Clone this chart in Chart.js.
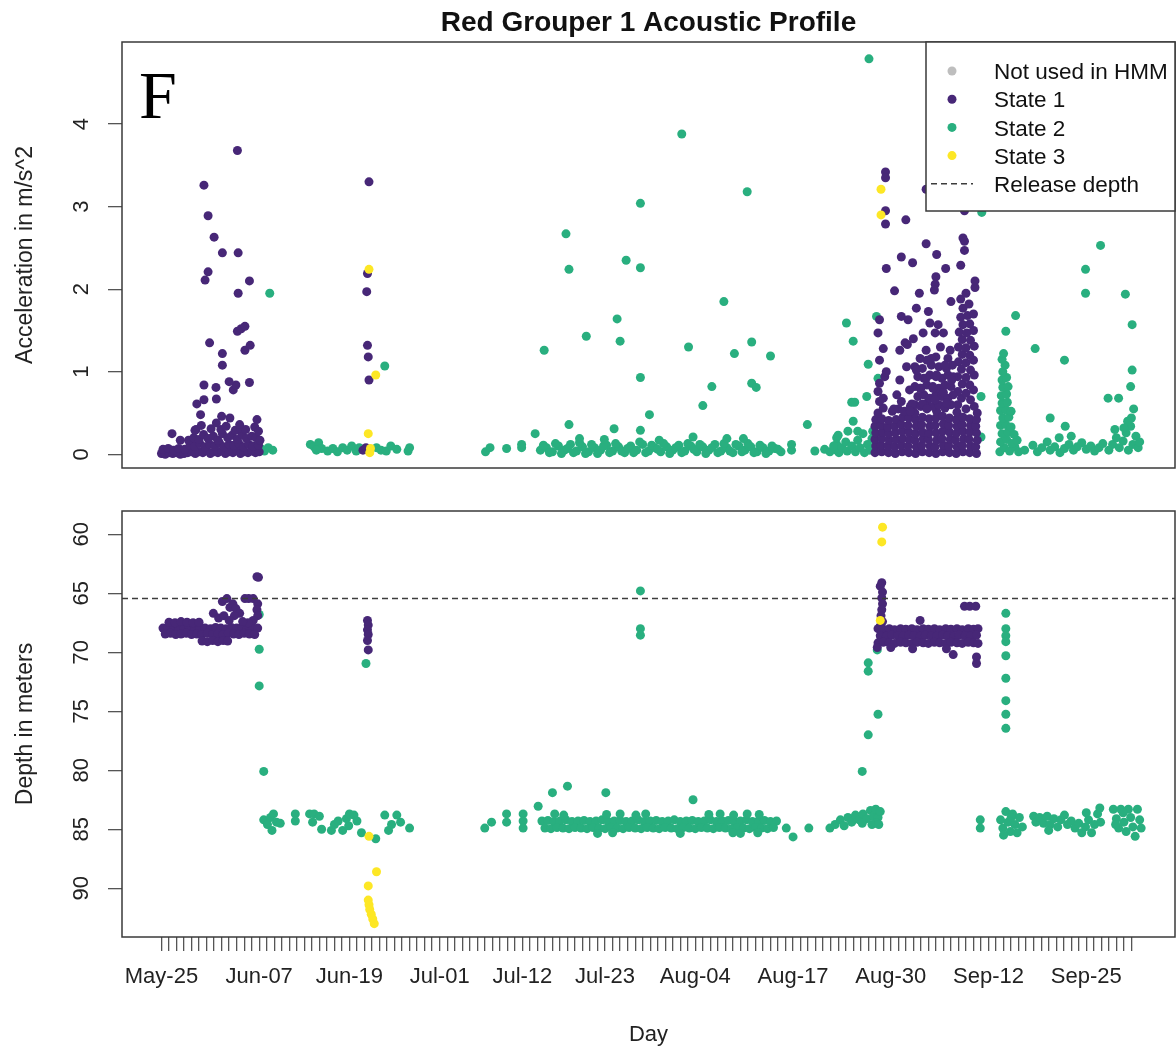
<!DOCTYPE html>
<html>
<head>
<meta charset="utf-8">
<title>Red Grouper 1 Acoustic Profile</title>
<script src="https://cdn.jsdelivr.net/npm/chart.js@4/dist/chart.umd.min.js"></script>
<style>
  html, body { margin: 0; padding: 0; background: #fff; overflow: hidden; }
  #accWrap { position: absolute; left: 0; top: 0; width: 1176px; height: 510px; }
  #depthWrap { position: absolute; left: 0; top: 470px; width: 1176px; height: 582px; }
</style>
</head>
<body>
<div id="accWrap"><canvas id="accChart"></canvas></div>
<div id="depthWrap"><canvas id="depthChart"></canvas></div>
<script>
// ---- Day axis (day 0 = May-25) ----
const tickLabels    = ['May-25','Jun-07','Jun-19','Jul-01','Jul-12','Jul-23','Aug-04','Aug-17','Aug-30','Sep-12','Sep-25'];
const tickLabelDays = [0, 13, 25, 37, 48, 59, 71, 84, 97, 110, 123];
const firstTickDay = 0;
const lastTickDay = 129;
const dayMin = -5.25;
const dayMax = 134.8;

// ---- Acceleration axis ----
const accTicks = [0, 1, 2, 3, 4];
const accMin = -0.166;
const accMax = 4.994;

// ---- Depth axis ----
const depthTicks = [60, 65, 70, 75, 80, 85, 90];
const depthMin = 58.03;
const depthMax = 94.13;
const releaseDepth = 65.45;

// ---- Acceleration observations [day, m/s^2] ----
const accNotUsed = [];
const accState1 = [
  [0.0,0.01],[0.5,0.00],[1.0,0.02],[1.5,0.01],[2.0,0.02],[2.5,0.00],[3.0,0.01],[3.5,0.02],[4.0,0.03],[4.5,0.01],[5.0,0.03],[5.5,0.02],[6.0,0.05],[6.5,0.01],[7.0,0.03],[7.5,0.02],[8.0,0.04],[8.5,0.01],[9.0,0.03],[9.5,0.02],[10.0,0.05],[10.5,0.01],[11.0,0.03],[11.5,0.02],[12.0,0.04],[12.5,0.02],[13.0,0.03],
  [0.2,0.06],[0.9,0.07],[1.6,0.05],[2.3,0.07],[3.1,0.06],[3.8,0.11],[4.4,0.10],[5.1,0.13],[5.8,0.09],[6.4,0.12],[7.1,0.10],[7.7,0.14],[8.3,0.09],[9.0,0.12],[9.6,0.11],[10.3,0.13],[10.9,0.09],[11.6,0.12],[12.2,0.10],[12.9,0.11],
  [3.6,0.17],[4.3,0.20],[5.0,0.18],[5.6,0.24],[6.2,0.19],[6.9,0.22],[7.5,0.17],[8.1,0.25],[8.8,0.20],[9.4,0.23],[10.1,0.18],[10.7,0.24],[11.3,0.19],[12.0,0.22],[12.6,0.20],[13.1,0.17],
  [4.6,0.30],[5.3,0.35],[6.6,0.31],[7.9,0.30],[8.6,0.34],[9.8,0.29],[10.5,0.32],[11.2,0.30],[12.4,0.33],[12.9,0.28],
  [1.4,0.25],[2.5,0.17],[4.45,0.29],[7.3,0.38],[10.4,0.36],[12.7,0.42],[9.1,0.44],[8.0,0.46],[5.2,0.48],[4.7,0.61],[5.65,0.66],[7.3,0.67],[9.55,0.78],[7.25,0.81],[5.65,0.84],[9.9,0.84],[11.7,0.87],[9.0,0.88],[8.1,1.08],[8.1,1.22],[11.1,1.26],[11.8,1.32],[6.4,1.35],[10.1,1.49],[10.6,1.52],[11.1,1.55],[10.2,1.95],[11.7,2.10],[5.8,2.11],[6.2,2.21],[8.1,2.44],[10.2,2.44],[7.0,2.63],[6.2,2.89],[5.65,3.26],[10.1,3.68],
  [26.8,0.05],[27.2,0.08],[27.6,0.90],[27.5,1.18],[27.4,1.32],[27.3,1.97],[27.4,2.19],[27.6,3.30],
  [94.9,0.02],[95.0,0.10],[94.9,0.18],[95.0,0.26],[94.9,0.34],[95.0,0.42],
  [95.8,0.03],[95.7,0.11],[95.8,0.19],[95.9,0.27],[95.7,0.35],[95.8,0.43],
  [96.7,0.02],[96.6,0.10],[96.8,0.17],[96.7,0.25],[96.6,0.33],[96.7,0.41],
  [97.6,0.01],[97.5,0.09],[97.7,0.18],[97.6,0.26],[97.5,0.34],[97.7,0.42],
  [98.5,0.03],[98.4,0.11],[98.6,0.19],[98.5,0.28],[98.4,0.36],[98.6,0.45],
  [99.4,0.02],[99.3,0.10],[99.5,0.18],[99.4,0.27],[99.3,0.35],[99.4,0.44],
  [100.3,0.01],[100.4,0.09],[100.2,0.17],[100.3,0.25],[100.4,0.34],[100.3,0.42],[100.2,0.50],
  [101.2,0.03],[101.1,0.11],[101.3,0.19],[101.2,0.27],[101.1,0.36],[101.2,0.45],
  [102.1,0.02],[102.2,0.10],[102.0,0.18],[102.1,0.26],[102.2,0.34],[102.1,0.43],
  [103.0,0.01],[102.9,0.09],[103.1,0.17],[103.0,0.26],[102.9,0.35],[103.0,0.44],[103.1,0.52],
  [103.9,0.03],[104.0,0.11],[103.8,0.19],[103.9,0.28],[104.0,0.37],[103.9,0.46],
  [104.8,0.02],[104.7,0.10],[104.9,0.18],[104.8,0.27],[104.7,0.35],[104.8,0.44],
  [105.7,0.01],[105.8,0.09],[105.6,0.17],[105.7,0.25],[105.8,0.34],[105.7,0.42],[105.8,0.51],
  [106.6,0.03],[106.5,0.11],[106.7,0.19],[106.6,0.28],[106.5,0.36],[106.6,0.45],
  [107.5,0.02],[107.6,0.10],[107.4,0.18],[107.5,0.27],[107.6,0.35],[107.5,0.43],
  [108.4,0.01],[108.3,0.09],[108.5,0.17],[108.4,0.26],[108.3,0.34],[108.4,0.42],[108.5,0.50],
  [105.9,0.60],[107.0,0.55],[108.1,0.58],[106.4,0.68],[107.6,0.66],[105.9,0.76],[107.0,0.74],[108.0,0.78],[106.5,0.85],[107.5,0.84],[105.9,0.94],[107.0,0.93],[108.1,0.96],[106.4,1.03],[107.6,1.02],[106.0,1.12],[107.0,1.11],[108.0,1.14],[106.5,1.21],[107.5,1.20],[106.0,1.30],[107.0,1.29],[108.1,1.31],[106.5,1.39],[107.6,1.38],[106.1,1.48],[107.1,1.47],[108.0,1.50],[106.6,1.57],[107.5,1.58],[106.3,1.66],[107.2,1.68],[108.0,1.70],[106.6,1.77],[107.4,1.82],[106.3,1.88],[107.0,1.95],[108.2,2.02],[108.2,2.10],
  [95.3,0.50],[96.0,0.56],[95.5,0.64],[96.0,0.68],[95.3,0.76],[95.5,0.86],[96.2,0.94],[96.4,1.00],[95.5,1.14],[96.0,1.28],[95.3,1.47],[95.5,1.63],[96.4,2.25],
  [97.2,0.52],[98.0,0.55],[98.8,0.52],[99.6,0.58],
  [100.2,0.60],[101.0,0.58],[101.8,0.62],[102.6,0.58],[103.4,0.60],[104.2,0.56],[105.0,0.60],
  [100.6,0.70],[101.4,0.72],[102.2,0.68],[103.0,0.72],[103.8,0.70],[104.6,0.68],[105.3,0.72],
  [100.2,0.82],[101.0,0.80],[101.8,0.84],[102.6,0.82],[103.4,0.80],[104.2,0.84],[105.0,0.82],
  [100.6,0.94],[101.4,0.92],[102.2,0.96],[103.0,0.94],[103.8,0.92],[104.6,0.96],[105.3,0.94],
  [100.2,1.06],[101.2,1.04],[102.4,1.08],[103.4,1.06],[104.4,1.04],[105.2,1.08],
  [101.8,1.14],[103.0,1.18],[104.6,1.16],
  [98.4,1.67],[99.3,1.63],[100.4,1.77],[102.0,1.73],[102.2,1.59],[103.3,1.57],[101.3,1.47],[102.9,1.47],[104.0,1.47],[98.9,1.35],[99.2,1.33],[98.2,1.26],[101.7,1.26],[104.9,1.26],[100.9,1.16],[102.4,1.16],[99.1,1.06],[100.4,1.02],[104.2,1.08],[103.1,0.96],[101.7,0.92],[98.2,0.90],[105.1,0.90],[99.5,0.78],[100.9,0.80],[98.4,0.64],[102.9,0.66],[99.8,0.61],[101.2,0.61],[104.4,0.62],[97.4,0.55],[101.8,0.55],[104.0,0.75],[102.6,0.80],[97.8,0.72],[99.6,0.52],[103.6,1.30],[100.0,1.40],
  [96.3,3.42],[96.3,3.35],[96.3,2.95],[96.3,2.79],[99.0,2.84],[101.7,2.55],[103.1,2.42],[98.4,2.39],[99.9,2.32],[106.6,2.62],[106.8,2.58],[106.8,2.47],[106.3,2.29],[104.3,2.25],[103.0,2.15],[102.9,2.06],[102.8,1.99],[101.7,3.21],[106.8,2.95],[97.5,1.98],[100.8,1.95],[105.0,1.85]
];
const accState2 = [
  [13.2,0.07],[13.7,0.04],[14.2,0.08],[14.8,0.05],[14.4,1.95],
  [19.8,0.12],[20.3,0.09],[20.9,0.14],[21.3,0.07],[20.6,0.05],[22.1,0.04],[22.8,0.07],[23.4,0.03],[24.1,0.08],[24.7,0.05],[25.3,0.10],[25.9,0.04],[26.3,0.08],[28.6,0.08],[29.2,0.05],[29.9,0.04],[29.7,1.07],[30.5,0.10],[31.3,0.06],[32.8,0.04],[33.0,0.08],
  [43.1,0.03],[43.7,0.08],[45.9,0.07],[47.9,0.08],[47.9,0.12],[49.7,0.25],[50.9,1.26],[53.8,2.67],[54.2,2.24],[54.2,0.36],[56.5,1.43],[60.2,0.31],[60.6,1.64],[61.0,1.37],[61.8,2.35],[63.7,3.04],[63.7,2.26],[63.7,0.93],[63.7,0.29],[64.9,0.48],[69.2,3.88],[70.1,1.30],[72.0,0.59],[73.2,0.82],[74.8,1.85],[76.2,1.22],[77.9,3.18],[78.5,1.36],[78.5,0.86],[79.1,0.81],[81.0,1.19],
  [50.4,0.05],[51.2,0.08],[52.0,0.03],[52.8,0.10],[53.6,0.05],[54.4,0.12],[55.2,0.04],[56.0,0.09],[56.8,0.03],[57.6,0.08],[58.4,0.05],[59.2,0.11],[60.0,0.04],[60.8,0.09],[61.6,0.02],[62.4,0.10],[63.2,0.05],[64.0,0.12],[64.8,0.04],[65.6,0.08],[66.4,0.03],[67.2,0.09],[68.0,0.05],[68.8,0.11],[69.6,0.04],[70.4,0.10],[71.2,0.03],[72.0,0.09],[72.8,0.05],[73.6,0.12],[74.4,0.04],[75.2,0.08],[76.0,0.02],[76.8,0.10],[77.6,0.05],[78.4,0.09],[79.2,0.03],[80.0,0.08],[80.8,0.04],[81.6,0.07],[82.4,0.03],
  [50.8,0.11],[51.6,0.02],[52.4,0.13],[53.2,0.01],[54.0,0.07],[54.8,0.02],[55.6,0.14],[56.4,0.01],[57.2,0.12],[58.0,0.01],[58.8,0.10],[59.6,0.02],[60.4,0.13],[61.2,0.04],[62.0,0.07],[62.8,0.02],[63.6,0.15],[64.4,0.02],[65.2,0.11],[66.0,0.06],[66.8,0.13],[67.6,0.01],[68.4,0.08],[69.2,0.02],[70.0,0.13],[70.8,0.06],[71.6,0.12],[72.4,0.01],[73.2,0.08],[74.0,0.02],[74.8,0.13],[75.6,0.04],[76.4,0.12],[77.2,0.03],[78.0,0.13],[78.8,0.02],[79.6,0.11],[80.4,0.01],[81.2,0.10],[82.0,0.06],
  [55.6,0.19],[70.7,0.21],[75.2,0.19],[77.4,0.19],[66.2,0.17],[58.9,0.18],
  [83.8,0.05],[83.8,0.12],[85.9,0.36],[86.9,0.04],[89.8,0.05],[89.8,0.12],[89.8,0.20],
  [88.2,0.06],[88.9,0.03],[89.4,0.10],[90.1,0.02],[90.5,0.08],[91.0,0.15],[91.2,0.04],[91.8,0.10],[92.3,0.03],[92.6,0.17],[92.9,0.08],[93.3,0.25],[93.5,0.02],[93.9,0.12],[94.2,0.05],[94.5,0.19],[94.8,0.09],[90.0,0.23],[91.3,0.28],[92.6,0.28],[91.8,0.63],[92.2,0.63],[93.8,0.70],[91.1,1.59],[92.0,1.37],[94.0,1.09],[95.1,1.67],[95.3,0.92],[94.1,4.79],[94.6,0.28],[92.0,0.40],
  [109.0,0.70],[109.0,0.21],[109.1,2.93],
  [111.5,0.03],[112.1,0.08],[112.8,0.04],[113.5,0.09],[114.0,0.03],[111.6,0.15],[112.4,0.18],[113.1,0.13],[113.8,0.17],[111.8,0.25],[112.6,0.27],[113.4,0.24],[111.6,0.35],[112.3,0.36],[113.0,0.33],[111.9,0.44],[112.7,0.45],[111.6,0.53],[112.3,0.54],[113.0,0.52],[111.8,0.62],[112.5,0.63],[111.7,0.71],[112.4,0.73],[111.9,0.81],[112.6,0.82],[111.8,0.90],[112.4,0.93],[111.9,1.00],[112.2,1.08],[111.8,1.15],[112.0,1.22],[112.3,1.49],[113.6,1.68],
  [114.8,0.05],[115.9,0.11],[116.5,0.03],[117.1,0.08],[117.8,0.15],[118.2,0.05],[118.2,0.44],[118.8,0.09],[119.5,0.02],[120.1,0.07],[120.2,0.34],[120.1,1.14],[120.7,0.12],[121.3,0.05],[121.8,0.09],[122.4,0.14],[123.0,0.06],[123.6,0.10],[124.1,0.04],[124.7,0.08],[125.2,0.13],[116.2,1.28],[124.9,2.53],[122.9,2.24],[122.9,1.95],[119.4,0.20],[121.0,0.22],
  [125.9,0.68],[127.3,0.68],[126.0,0.05],[126.5,0.12],[127.0,0.20],[127.4,0.08],[127.9,0.16],[128.3,0.26],[128.6,0.05],[128.9,0.34],[129.2,0.12],[129.0,0.44],[129.3,0.55],[128.5,0.40],[129.6,0.22],[129.9,0.08],[130.1,0.15],[128.0,0.32],[126.8,0.30],[128.9,0.82],[129.1,1.02],[129.1,1.57],[128.2,1.94]
];
const accState3 = [
  [27.6,2.24],[28.5,0.96],[27.5,0.25],[27.7,0.02],[27.8,0.07],[95.7,3.21],[95.7,2.90]
];

// ---- Depth observations [day, metres] ----
const depthNotUsed = [];
const depthState1 = [
  [0.2,67.95],[0.9,67.9],[1.6,68.0],[2.3,67.9],[3.0,67.95],[3.7,67.9],[4.4,68.0],[5.1,67.9],[5.8,67.95],[6.5,68.0],[7.2,67.9],[7.9,67.95],[8.6,68.0],[9.3,67.9],[10.0,67.95],[10.7,67.9],[11.4,68.0],[12.1,67.9],[12.8,67.95],
  [0.5,68.45],[1.2,68.4],[1.9,68.5],[2.6,68.45],[3.3,68.4],[4.0,68.5],[4.7,68.45],[5.4,68.5],[6.1,68.4],[6.8,68.5],[7.5,68.45],[8.2,68.5],[8.9,68.4],[9.6,68.45],[10.3,68.5],[11.0,68.4],[11.7,68.45],[12.4,68.5],
  [1.0,67.45],[1.8,67.5],[2.6,67.4],[3.4,67.45],[4.2,67.5],[5.0,67.45],
  [5.4,69.05],[6.1,69.1],[6.8,69.0],[7.5,69.1],[8.2,69.0],[8.8,69.05],
  [8.1,65.7],[8.7,65.45],[9.1,66.2],[9.5,65.9],[9.9,66.3],[10.4,66.7],[9.7,66.9],[11.1,65.45],[11.6,65.45],[12.2,65.45],[12.7,63.6],[12.9,63.65],[12.8,65.9],[12.7,66.4],[12.8,66.9],[6.9,66.7],[7.6,67.1],[8.3,66.9],[9.0,67.3],[12.2,67.3],[11.5,67.5],[10.8,67.4],
  [27.4,67.3],[27.5,67.7],[27.4,68.1],[27.5,68.5],[27.4,69.0],[27.5,69.8],
  [95.8,64.1],[95.6,64.4],[95.9,64.9],[95.8,65.4],[95.9,65.9],[95.8,66.4],[95.7,66.9],[95.9,67.4],[95.6,67.8],
  [95.3,68.0],[96.0,68.05],[96.8,68.0],[97.5,68.1],[98.3,68.0],[99.0,68.05],[99.8,68.0],[100.5,68.1],[101.3,68.0],[102.0,68.05],[102.8,68.0],[103.5,68.1],[104.3,68.0],[105.0,68.05],[105.8,68.0],[106.5,68.1],[107.3,68.0],[108.0,68.05],[108.6,68.0],
  [95.6,68.6],[96.4,68.65],[97.1,68.55],[97.9,68.6],[98.6,68.65],[99.4,68.55],[100.1,68.6],[100.9,68.65],[101.6,68.55],[102.4,68.6],[103.1,68.65],[103.9,68.55],[104.6,68.6],[105.4,68.65],[106.1,68.55],[106.9,68.6],[107.6,68.65],[108.4,68.55],
  [95.3,69.2],[96.0,69.15],[96.8,69.2],[97.5,69.25],[98.3,69.15],[99.0,69.2],[99.8,69.25],[100.5,69.15],[101.3,69.2],[102.0,69.25],[102.8,69.15],[103.5,69.2],[104.3,69.25],[105.0,69.15],[105.8,69.2],[106.5,69.25],[107.3,69.15],[108.0,69.2],[108.6,69.25],
  [100.9,67.3],[106.8,66.1],[107.5,66.1],[108.3,66.1],[99.9,69.7],[105.3,70.2],[108.4,70.4],[108.4,70.95],[104.4,69.7],[97.0,69.6],[95.2,69.6]
];
const depthState2 = [
  [13.0,66.8],[13.0,69.75],[13.0,72.85],[13.6,80.1],
  [13.6,84.2],[14.1,84.6],[14.5,84.0],[14.9,83.7],[15.3,84.4],[14.7,85.1],[15.8,84.5],[17.8,83.7],[17.8,84.3],[19.7,83.7],[20.3,83.7],[20.1,84.4],[21.0,83.9],[21.3,85.0],[22.6,85.1],[23.0,84.6],[23.5,84.3],[24.1,85.1],[24.6,84.1],[25.0,83.7],[25.6,83.8],[26.0,84.3],[24.9,84.7],[26.6,85.3],[28.5,85.8],[29.7,83.8],[30.2,85.1],[30.6,84.6],[31.3,83.8],[31.8,84.4],[33.0,84.9],[27.2,70.95],
  [43.0,84.9],[43.9,84.4],[45.9,83.7],[45.9,84.4],[48.1,83.7],[48.1,84.3],[48.1,84.9],[50.1,83.05],[52.0,81.9],[54.0,81.35],[59.1,81.9],[70.7,82.5],[63.7,64.8],[63.7,68.0],[63.7,68.55],
  [50.6,84.3],[51.4,84.25],[52.2,84.35],[53.0,84.3],[53.8,84.2],[54.6,84.35],[55.4,84.3],[56.2,84.25],[57.0,84.35],[57.8,84.3],[58.6,84.2],[59.4,84.35],[60.2,84.3],[61.0,84.25],[61.8,84.35],[62.6,84.3],[63.4,84.2],[64.2,84.35],[65.0,84.3],[65.8,84.25],[66.6,84.35],[67.4,84.3],[68.2,84.2],[69.0,84.35],[69.8,84.3],[70.6,84.25],[71.4,84.35],[72.2,84.3],[73.0,84.2],[73.8,84.35],[74.6,84.3],[75.4,84.25],[76.2,84.35],[77.0,84.3],[77.8,84.2],[78.6,84.35],[79.4,84.3],[80.2,84.25],[81.0,84.35],[81.8,84.3],
  [51.0,84.9],[51.8,84.95],[52.6,84.85],[53.4,84.9],[54.2,84.95],[55.0,84.85],[55.8,84.9],[56.6,84.95],[57.4,84.85],[58.2,84.9],[59.0,84.95],[59.8,84.85],[60.6,84.9],[61.4,84.95],[62.2,84.85],[63.0,84.9],[63.8,84.95],[64.6,84.85],[65.4,84.9],[66.2,84.95],[67.0,84.85],[67.8,84.9],[68.6,84.95],[69.4,84.85],[70.2,84.9],[71.0,84.95],[71.8,84.85],[72.6,84.9],[73.4,84.95],[74.2,84.85],[75.0,84.9],[75.8,84.95],[76.6,84.85],[77.4,84.9],[78.2,84.95],[79.0,84.85],[79.8,84.9],[80.6,84.95],[81.4,84.85],
  [52.3,83.7],[53.5,83.8],[59.2,83.75],[61.0,83.7],[63.1,83.8],[64.4,83.7],[72.8,83.75],[74.3,83.7],[76.1,83.8],[77.9,83.7],[79.5,83.75],
  [58.0,85.35],[60.0,85.3],[69.0,85.35],[76.0,85.3],[77.0,85.35],[79.3,85.3],
  [83.1,84.9],[84.0,85.65],[86.1,84.9],
  [88.9,84.9],[89.6,84.6],[90.3,84.2],[90.8,84.7],[91.3,84.0],[91.8,84.4],[92.3,83.8],[92.8,84.2],[93.3,83.7],[93.8,84.1],[94.3,83.4],[94.7,83.9],[95.0,83.3],[95.3,84.0],[95.6,83.5],[95.1,84.5],[94.5,84.6],[93.2,84.5],[95.4,84.6],
  [95.2,69.8],[94.0,70.9],[94.0,71.6],[95.3,75.25],[94.0,77.0],[93.2,80.1],
  [108.9,84.2],[108.9,84.9],
  [112.3,66.7],[112.3,68.0],[112.3,68.6],[112.3,69.1],[112.3,70.3],[112.3,72.2],[112.3,74.1],[112.3,75.25],[112.3,76.45],
  [111.6,84.2],[111.9,84.9],[112.3,83.5],[112.6,84.4],[112.9,85.2],[113.2,83.7],[113.5,84.6],[113.8,85.3],[114.1,84.0],[114.5,84.8],[112.0,85.5],[113.0,84.0],
  [116.0,83.9],[116.3,84.4],[116.8,84.0],
  [117.3,84.5],[117.8,83.9],[118.2,84.6],[118.7,84.1],[119.2,84.8],[119.6,84.2],[120.1,83.8],[120.5,84.6],[118.0,85.1],
  [121.0,84.3],[121.5,84.9],[122.0,84.5],[122.4,85.3],[122.9,84.8],[123.3,84.2],[123.7,85.3],[124.1,84.6],[124.5,83.7],[124.8,83.2],[124.9,84.4],[123.0,83.6],
  [126.6,83.3],[127.0,84.1],[127.3,84.9],[127.6,83.3],[128.0,84.4],[128.3,85.2],[128.6,83.3],[128.9,84.0],[129.2,84.8],[129.5,85.6],[129.8,83.3],[130.1,84.2],[130.3,84.9],[127.9,83.6],[126.9,84.6]
];
const depthState3 = [
  [27.6,85.6],[28.6,88.6],[27.5,89.8],[27.5,91.0],[27.6,91.4],[27.7,91.8],[27.9,92.2],[28.1,92.6],[28.3,93.0],[95.9,59.4],[95.8,60.65],[95.6,67.3]
];

// ---- Styling ----
const COLORS = { notUsed: '#BEBEBE', state1: '#472777', state2: '#29AF7F', state3: '#FDE725', release: '#3c3c3c' };
const FONT = '"Liberation Sans", Arial, Helvetica, sans-serif';
Chart.defaults.font.family = FONT;
Chart.defaults.color = '#222';

const toXY = rows => rows.map(([x, y]) => ({ x, y }));

function pointSet(label, rows, color, order) {
  return {
    label, data: toXY(rows), order,
    backgroundColor: color, borderColor: color,
    pointRadius: 4.5, pointHoverRadius: 4.5, pointBorderWidth: 0, borderWidth: 0
  };
}
function releaseSet(rows) {
  return {
    label: 'Release depth', data: toXY(rows), order: 0,
    showLine: true, borderColor: COLORS.release, borderWidth: 1.5, borderDash: [6, 4],
    pointRadius: 0, pointHoverRadius: 0, backgroundColor: COLORS.release
  };
}

function dailyTicks(scale) {
  const t = [];
  for (let d = firstTickDay; d <= lastTickDay; d++) t.push({ value: d });
  scale.ticks = t;
}

// box around each plotting region
const framePlugin = {
  id: 'frame',
  afterDatasetsDraw(chart) {
    const { ctx, chartArea: a } = chart;
    ctx.save();
    ctx.strokeStyle = '#3a3a3a';
    ctx.lineWidth = 1.5;
    ctx.strokeRect(a.left, a.top, a.right - a.left, a.bottom - a.top);
    ctx.restore();
  }
};

// panel letter in the top-left corner
const panelLetterPlugin = {
  id: 'panelLetter',
  afterDatasetsDraw(chart, args, opts) {
    const { ctx, chartArea: a } = chart;
    ctx.save();
    ctx.fillStyle = '#000';
    ctx.font = '68px "Liberation Serif", "Times New Roman", serif';
    ctx.textBaseline = 'alphabetic';
    ctx.textAlign = 'left';
    ctx.fillText(opts.text, a.left + 17, a.top + 76);
    ctx.restore();
  }
};

// legend drawn inside the top-right corner of the plotting region
const insetLegendPlugin = {
  id: 'insetLegend',
  afterDraw(chart) {
    const { ctx, chartArea: a } = chart;
    const w = 249, h = 169, rowH = 28.2;
    const left = a.right - w, top = a.top;
    ctx.save();
    ctx.fillStyle = '#fff';
    ctx.fillRect(left, top, w, h);
    ctx.strokeStyle = '#3a3a3a';
    ctx.lineWidth = 1.5;
    ctx.strokeRect(left, top, w, h);
    ctx.font = '22.5px ' + FONT;
    ctx.textBaseline = 'middle';
    ctx.textAlign = 'left';
    chart.data.datasets.forEach((ds, i) => {
      const y = top + 29 + i * rowH;
      const sx = left + 26;
      if (ds.showLine) {
        ctx.strokeStyle = ds.borderColor;
        ctx.lineWidth = ds.borderWidth;
        ctx.setLineDash(ds.borderDash);
        ctx.beginPath();
        ctx.moveTo(sx - 21, y);
        ctx.lineTo(sx + 21, y);
        ctx.stroke();
        ctx.setLineDash([]);
      } else {
        ctx.fillStyle = ds.backgroundColor;
        ctx.beginPath();
        ctx.arc(sx, y, 4.5, 0, Math.PI * 2);
        ctx.fill();
      }
      ctx.fillStyle = '#111';
      ctx.fillText(ds.label, left + 68, y + 2);
    });
    ctx.restore();
  }
};

const yTickFont = { size: 22, family: FONT };
const yTitleFont = { size: 23, family: FONT };

// ---- Acceleration panel ----
new Chart(document.getElementById('accChart'), {
  type: 'scatter',
  data: {
    datasets: [
      pointSet('Not used in HMM', accNotUsed, COLORS.notUsed, 4),
      pointSet('State 1', accState1, COLORS.state1, 2),
      pointSet('State 2', accState2, COLORS.state2, 3),
      pointSet('State 3', accState3, COLORS.state3, 1),
      releaseSet([])
    ]
  },
  options: {
    responsive: true, maintainAspectRatio: false, animation: false, devicePixelRatio: 1,
    layout: { autoPadding: false, padding: { left: 0, right: 1, top: 0, bottom: 42 } },
    plugins: {
      legend: { display: false },
      tooltip: { enabled: false },
      title: {
        display: true, text: 'Red Grouper 1 Acoustic Profile', fullSize: false,
        font: { size: 28, weight: 'bold', family: FONT }, color: '#111',
        padding: { top: 6.6, bottom: 1.8 }
      },
      panelLetter: { text: 'F' }
    },
    scales: {
      x: { type: 'linear', min: dayMin, max: dayMax, display: false },
      y: {
        type: 'linear', min: accMin, max: accMax,
        afterBuildTicks: s => { s.ticks = accTicks.map(v => ({ value: v })); },
        afterFit: s => { s.width = 122; },
        ticks: { minRotation: 90, maxRotation: 90, crossAlign: 'center', padding: 20, autoSkip: false, font: yTickFont, color: '#222' },
        grid: { drawOnChartArea: false, tickLength: 14, color: '#555', lineWidth: 1.3 },
        border: { display: false },
        title: { display: true, text: 'Acceleration in m/s^2', font: yTitleFont, color: '#222', padding: { top: 11.5, bottom: 0 } }
      }
    }
  },
  plugins: [framePlugin, panelLetterPlugin, insetLegendPlugin]
});

// ---- Depth panel ----
const labelForDay = v => {
  const i = tickLabelDays.indexOf(v);
  return i >= 0 ? tickLabels[i] : '';
};

new Chart(document.getElementById('depthChart'), {
  type: 'scatter',
  data: {
    datasets: [
      pointSet('Not used in HMM', depthNotUsed, COLORS.notUsed, 4),
      pointSet('State 1', depthState1, COLORS.state1, 2),
      pointSet('State 2', depthState2, COLORS.state2, 3),
      pointSet('State 3', depthState3, COLORS.state3, 1),
      releaseSet([[dayMin, releaseDepth], [dayMax, releaseDepth]])
    ]
  },
  options: {
    responsive: true, maintainAspectRatio: false, animation: false, devicePixelRatio: 1,
    layout: { autoPadding: false, padding: { left: 0, right: 1, top: 41, bottom: 0 } },
    plugins: { legend: { display: false }, tooltip: { enabled: false } },
    scales: {
      x: {
        type: 'linear', min: dayMin, max: dayMax,
        afterBuildTicks: dailyTicks,
        afterFit: s => { s.height = 115; },
        ticks: { autoSkip: false, maxRotation: 0, minRotation: 0, padding: 13, font: { size: 22, family: FONT }, color: '#222', callback: labelForDay },
        grid: { drawOnChartArea: false, tickLength: 14, color: '#555', lineWidth: 1.3 },
        border: { display: false },
        title: { display: true, text: 'Day', font: { size: 22, family: FONT }, color: '#222', padding: { top: 0, bottom: 4 } }
      },
      y: {
        type: 'linear', reverse: true, min: depthMin, max: depthMax,
        afterBuildTicks: s => { s.ticks = depthTicks.map(v => ({ value: v })); },
        afterFit: s => { s.width = 122; },
        ticks: { minRotation: 90, maxRotation: 90, crossAlign: 'center', padding: 14, autoSkip: false, font: yTickFont, color: '#222' },
        grid: { drawOnChartArea: false, tickLength: 14, color: '#555', lineWidth: 1.3 },
        border: { display: false },
        title: { display: true, text: 'Depth in meters', font: yTitleFont, color: '#222', padding: { top: 11.5, bottom: 0 } }
      }
    }
  },
  plugins: [framePlugin]
});
</script>
</body>
</html>
